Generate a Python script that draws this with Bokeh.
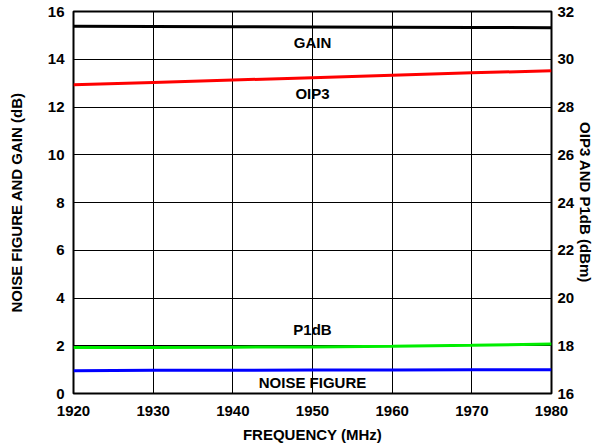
from bokeh.plotting import figure
from bokeh.models import Range1d, LinearAxis, FixedTicker, Label
from bokeh.embed import file_html
from bokeh.resources import INLINE

freq = [1920, 1930, 1940, 1950, 1960, 1970, 1980]
gain = [15.38, 15.37, 15.36, 15.35, 15.34, 15.33, 15.32]
noise_figure = [0.95, 0.97, 0.97, 0.98, 0.98, 0.99, 0.99]
oip3 = [28.93, 29.03, 29.13, 29.23, 29.33, 29.43, 29.52]
p1db = [17.93, 17.93, 17.94, 17.95, 17.98, 18.02, 18.07]

x_ticks = [1920, 1930, 1940, 1950, 1960, 1970, 1980]
left_ticks = [0, 2, 4, 6, 8, 10, 12, 14, 16]
right_ticks = [16, 18, 20, 22, 24, 26, 28, 30, 32]

FONT = "Liberation Sans"

p = figure(width=602, height=447, output_backend="svg", toolbar_location=None,
           x_range=Range1d(1920, 1980), y_range=Range1d(0, 16),
           min_border_left=73, min_border_right=51, min_border_top=11, min_border_bottom=54)
p.extra_y_ranges = {"right": Range1d(16, 32)}

p.outline_line_color = "black"
p.outline_line_width = 2
p.background_fill_color = "white"
p.border_fill_color = "white"

ry = LinearAxis(y_range_name="right", axis_label="OIP3 AND P1dB (dBm)",
                ticker=FixedTicker(ticks=right_ticks))
p.add_layout(ry, "right")

for ax in [p.xaxis[0], p.yaxis[0], ry]:
    ax.major_tick_line_color = None
    ax.minor_tick_line_color = None
    ax.major_tick_out = 0
    ax.major_tick_in = 0
    ax.axis_line_color = None
    ax.major_label_text_font = FONT
    ax.major_label_text_font_style = "bold"
    ax.major_label_text_font_size = "15px"
    ax.major_label_text_color = "black"
    ax.axis_label_text_font = FONT
    ax.axis_label_text_font_style = "bold"
    ax.axis_label_text_font_size = "15px"
    ax.axis_label_text_color = "black"

p.xaxis.ticker = FixedTicker(ticks=x_ticks)
p.yaxis[0].ticker = FixedTicker(ticks=left_ticks)
p.xaxis.axis_label = "FREQUENCY (MHz)"
p.yaxis[0].axis_label = "NOISE FIGURE AND GAIN (dB)"
p.xaxis.major_label_standoff = 12
p.yaxis[0].major_label_standoff = 9
p.xaxis.axis_label_standoff = 7
p.yaxis[0].axis_label_standoff = 20
ry.major_label_standoff = 6
ry.axis_label_standoff = 0

p.xgrid.grid_line_color = "black"
p.ygrid.grid_line_color = "black"
p.xgrid.grid_line_width = 1
p.ygrid.grid_line_width = 1
p.xgrid.ticker = FixedTicker(ticks=x_ticks[1:-1])
p.ygrid.ticker = FixedTicker(ticks=left_ticks[1:-1])

p.line(freq, gain, line_color="black", line_width=3)
p.line(freq, noise_figure, line_color="#0000ff", line_width=3)
p.line(freq, oip3, line_color="#ff0000", line_width=3, y_range_name="right")
p.line(freq, p1db, line_color="#00ee00", line_width=3, y_range_name="right")

labels = [("GAIN", 1950, 14.72), ("OIP3", 1950, 12.58), ("P1dB", 1950, 2.68), ("NOISE FIGURE", 1950, 0.48)]
for txt, x, y in labels:
    p.add_layout(Label(x=x, y=y, text=txt, text_align="center", text_baseline="middle",
                       text_font=FONT, text_font_style="bold", text_font_size="15px",
                       text_color="black"))

open("out.html", "w").write(file_html(p, INLINE))
